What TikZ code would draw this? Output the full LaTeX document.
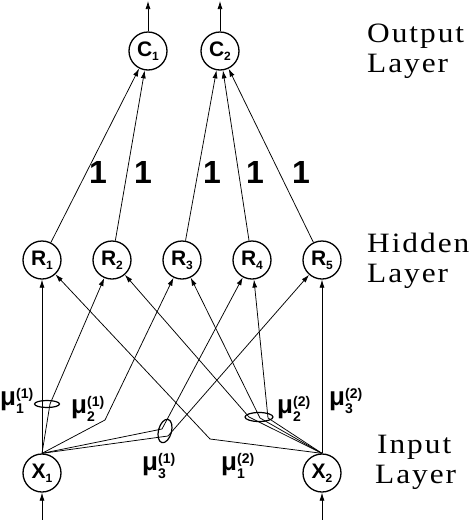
\documentclass[tikz,border=0pt]{standalone}
\usepackage{fontspec}
\setmainfont{Liberation Sans}
\newfontfamily\layerfont[FakeStretch=1.12,LetterSpace=7]{Liberation Serif}
\usetikzlibrary{arrows.meta}
\newcommand{\nlab}[2]{#1\raisebox{-4pt}{\fontsize{12}{12}\selectfont #2}}
\newcommand{\mulab}[2]{μ\rlap{\raisebox{7pt}{\fontsize{14}{14}\selectfont(#2)}}\raisebox{-8pt}{\fontsize{14}{14}\selectfont#1}}

\begin{document}
\begin{tikzpicture}[x=1pt,y=-1pt,
  neuron/.style={circle,draw,line width=1.3pt,minimum size=38pt,inner sep=0pt,font=\fontsize{21}{21}\selectfont\bfseries},
  conn/.style={line width=0.75pt,-{Latex[length=8pt,width=5pt]}},
  memb/.style={line width=1.2pt},
  wt/.style={inner sep=0pt,font=\fontsize{32}{32}\selectfont\bfseries},
  mu/.style={anchor=base west,inner sep=0pt,font=\fontsize{26}{26}\selectfont\bfseries},
  layer/.style={anchor=base west,inner sep=0pt,font=\layerfont\fontsize{28}{28}\selectfont}]
\useasboundingbox (0,0) rectangle (473,520);
% output layer
\node[neuron] (C1) at (148,51) {\nlab{C}{1}};
\node[neuron] (C2) at (220,51) {\nlab{C}{2}};
% hidden layer
\node[neuron] (R1) at (42,260) {\nlab{R}{1}};
\node[neuron] (R2) at (112,260) {\nlab{R}{2}};
\node[neuron] (R3) at (182,260) {\nlab{R}{3}};
\node[neuron] (R4) at (252,260) {\nlab{R}{4}};
\node[neuron] (R5) at (322,260) {\nlab{R}{5}};
% input layer
\node[neuron] (X1) at (42,473) {\nlab{X}{1}};
\node[neuron] (X2) at (322,473) {\nlab{X}{2}};
\coordinate (out1) at (148,1);
\coordinate (out2) at (220,1);
\coordinate (in1) at (42,520);
\coordinate (in2) at (322,520);
%% bends of the links at the membership functions
\coordinate (k12) at (50,404);
\coordinate (k13) at (105,420);
\coordinate (k14) at (162,429);
\coordinate (k15) at (168,436);
\coordinate (k21) at (210,439);
\coordinate (k22) at (249,417);
\coordinate (k23) at (260,418);
\coordinate (k24) at (268,418);
\coordinate (e11) at (47,404);
\coordinate (e31) at (165,431);
\coordinate (e22) at (259,417);
% in and out arrows
\draw[conn] (C1) -- (out1);
\draw[conn] (C2) -- (out2);
\draw[conn] (in1) -- (X1);
\draw[conn] (in2) -- (X2);
% hidden to output
\draw[conn] (R1) -- (C1);
\draw[conn] (R2) -- (C1);
\draw[conn] (R3) -- (C2);
\draw[conn] (R4) -- (C2);
\draw[conn] (R5) -- (C2);
\node[wt] (w1) at (98,172) {1};
\node[wt] (w2) at (143,172) {1};
\node[wt] (w3) at (212,172) {1};
\node[wt] (w4) at (255,172) {1};
\node[wt] (w5) at (301,172) {1};
% input to hidden, X1
\draw[conn] (X1) -- (R1);
\draw[conn] (X1.north) -- (k12) -- (R2);
\draw[conn] (X1.north) -- (k13) -- (R3);
\draw[conn] (X1.north) -- (k14) -- (R4);
\draw[conn] (X1.north) -- (k15) -- (R5);
% input to hidden, X2
\draw[conn] (X2.north) -- (k21) -- (R1);
\draw[conn] (X2.north) -- (k22) -- (R2);
\draw[conn] (X2.north) -- (k23) -- (R3);
\draw[conn] (X2.north) -- (k24) -- (R4);
\draw[conn] (X2) -- (R5);
% membership functions
\draw[memb] (e11) ellipse [x radius=12.5pt,y radius=3.5pt];
\draw[memb,rotate around={-15:(e31)}] (e31) ellipse [x radius=6.5pt,y radius=12pt];
\draw[memb] (e22) ellipse [x radius=14pt,y radius=4.5pt];
\node[mu] (mu11) at (0,405) {\mulab{1}{1}};
\node[mu] (mu21) at (71,413) {\mulab{2}{1}};
\node[mu] (mu31) at (142,470) {\mulab{3}{1}};
\node[mu] (mu12) at (221,470) {\mulab{1}{2}};
\node[mu] (mu22) at (277,413) {\mulab{2}{2}};
\node[mu] (mu32) at (329,405) {\mulab{3}{2}};
%% layer names
\node[layer] (out) at (367,42) {Output};
\node[layer] (outb) at (367,72) {Layer};
\node[layer] (hid) at (367,252) {Hidden};
\node[layer] (hidb) at (367,282) {Layer};
\node[layer] (inp) at (377,453) {Input};
\node[layer] (inpb) at (375,483) {Layer};
\end{tikzpicture}
\end{document}
